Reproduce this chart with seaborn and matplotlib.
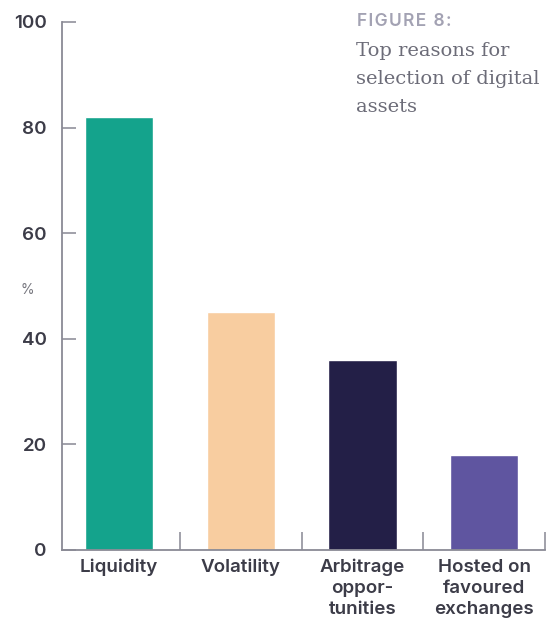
import matplotlib
matplotlib.use("Agg")
import matplotlib.pyplot as plt
import seaborn as sns
import pandas as pd

categories = ["Liquidity", "Volatility", "Arbitrage\noppor-\ntunities", "Hosted on\nfavoured\nexchanges"]
values = [82, 45, 36, 18]
colors = ["#14a38c", "#f8cda0", "#231f47", "#5f55a0"]
yticks = [0, 20, 40, 60, 80, 100]

sns.set_theme(style="white")
plt.rcParams['font.family'] = ['Inter', 'DejaVu Sans']

df = pd.DataFrame({"cat": categories, "val": values})

fig = plt.figure(figsize=(5.54, 6.19), dpi=100)
ax = fig.add_axes([62/554, 1 - 550/619, (545-62)/554, (550-22)/619])
sns.barplot(data=df, x="cat", y="val", hue="cat", palette=colors, width=0.56,
            legend=False, ax=ax, saturation=1)

ax.set_ylim(0, 100)
ax.set_xlim(-0.47, 3.5)
ax.set_yticks(yticks)
ax.set_yticklabels([str(t) for t in yticks], fontsize=13.5, fontweight="semibold", color="#3c3c48")
ax.set_xticks([0.5, 1.5, 2.5, 3.5])
ax.set_xticklabels([])
ax.tick_params(axis="y", left=True, direction="in", length=10, width=1.3, color="#9a9aa4", pad=11)
ax.tick_params(axis="x", bottom=True, direction="in", length=13, width=1.3, color="#9a9aa4")
ax.set_xlabel("")
ax.set_ylabel("")
for s in ["top", "right"]:
    ax.spines[s].set_visible(False)
for s in ["left", "bottom"]:
    ax.spines[s].set_color("#8a8a95")
    ax.spines[s].set_linewidth(1.3)

for i, c in enumerate(categories):
    ax.text(i, -1.7, c, ha="center", va="top", fontsize=13.5, fontweight="semibold",
            color="#3c3c48", linespacing=1.3, transform=ax.transData, clip_on=False)

fig.text(27/554, 1 - 290/619, "%", ha="center", va="center", fontsize=10, color="#77777f")

fig.text(357/554, 1 - 22/619, "F\u200aI\u200aG\u200aU\u200aR\u200aE\u2009 8\u200a:", ha="left", va="center", fontsize=12.5,
         fontweight="semibold", color="#a3a2b3")
fig.text(356/554, 1 - 42/619, "Top reasons for\nselection of digital\nassets", ha="left", va="top",
         fontsize=14, color="#6c6c78", family="DejaVu Serif", linespacing=1.7)

fig.savefig("out.png", dpi=100, facecolor="white")
